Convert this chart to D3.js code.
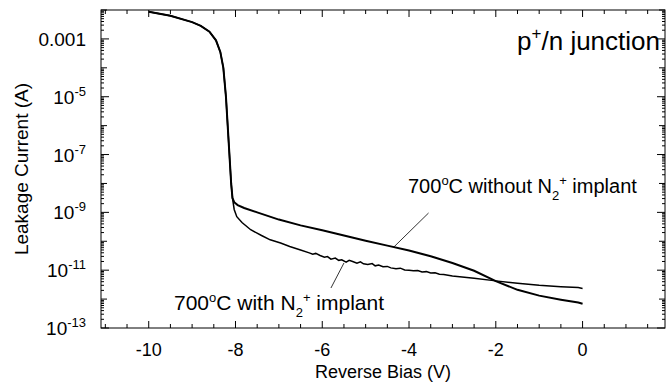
<!DOCTYPE html>
<html>
<head>
<meta charset="utf-8">
<script src="https://cdn.jsdelivr.net/npm/d3@7/dist/d3.min.js"></script>
<style>
  body { margin: 0; background: #fff; }
  text { font-family: "Liberation Sans", Arial, sans-serif; fill: #000; }
</style>
</head>
<body>
<svg id="chart"></svg>
<script>
// 数据：反向偏压 (V) 与 log10(漏电流 A)
const sharedBias = [-10, -9.5, -9.0, -8.8, -8.6, -8.45, -8.35, -8.28, -8.22, -8.18, -8.14, -8.1, -8.07];
const sharedLogI = [-2.06, -2.2, -2.42, -2.55, -2.75, -3.05, -3.45, -4.0, -5.0, -6.0, -7.0, -8.0, -8.5];

const withoutBias = [-8.03, -7.95, -7.8, -7.5, -7.0, -6.5, -6.0, -5.5, -5.0, -4.5, -4.0, -3.5, -3.0, -2.5, -2.0, -1.5, -1.0, -0.5, -0.1, 0];
const withoutLogI = [-8.65, -8.75, -8.85, -9.0, -9.25, -9.45, -9.62, -9.8, -9.98, -10.15, -10.32, -10.52, -10.75, -11.02, -11.38, -11.68, -11.88, -12.02, -12.12, -12.16];

const withBias = [-8.03, -7.97, -7.85, -7.65, -7.4, -7.2, -6.96, -6.75, -6.5, -6.3, -6.22, -6.15, -6.05, -5.95, -5.88, -5.8, -5.7, -5.62, -5.55, -5.45, -5.38, -5.3, -5.2, -5.12, -5.05, -4.95, -4.85, -4.78, -4.7, -4.6, -4.5, -4.42, -4.3, -4.2, -4.1, -4.0, -3.9, -3.8, -3.7, -3.6, -3.5, -3.4, -3.3, -3.2, -3.0, -2.5, -2.0, -1.5, -1.0, -0.5, -0.1, 0];
const withLogI = [-8.9, -9.15, -9.35, -9.6, -9.8, -9.95, -10.06, -10.18, -10.3, -10.4, -10.45, -10.42, -10.49, -10.55, -10.53, -10.62, -10.58, -10.66, -10.64, -10.72, -10.66, -10.7, -10.76, -10.71, -10.78, -10.8, -10.77, -10.85, -10.82, -10.88, -10.87, -10.92, -10.95, -10.93, -10.99, -11.0, -11.02, -11.01, -11.06, -11.05, -11.1, -11.09, -11.14, -11.15, -11.2, -11.28, -11.37, -11.45, -11.52, -11.57, -11.6, -11.63];

const xTicks = [-10, -8, -6, -4, -2, 0];
const yTickExps = [-3, -5, -7, -9, -11, -13];

const width = 666, height = 385;
const margin = { top: 10, right: 1, bottom: 57, left: 101 };

const svg = d3.select("#chart")
  .attr("width", width)
  .attr("height", height);

const x = d3.scaleLinear()
  .domain([-11.1, 1.9])
  .range([margin.left, width - margin.right]);

const y = d3.scaleLog()
  .domain([1e-13, 1e-2])
  .range([height - margin.bottom, margin.top]);

const x0 = margin.left, x1 = width - margin.right;
const y0 = height - margin.bottom, y1 = margin.top;

// 坐标框
svg.append("rect")
  .attr("x", x0).attr("y", y1)
  .attr("width", x1 - x0).attr("height", y0 - y1)
  .attr("fill", "none").attr("stroke", "#000").attr("stroke-width", 1);

// X 刻度（向内，上下两边）
const xMinor = d3.range(-11, 2.01, 0.5).filter(v => xTicks.indexOf(v) < 0);
const tickG = svg.append("g").attr("stroke", "#000").attr("stroke-width", 1);
xTicks.forEach(v => {
  tickG.append("line").attr("x1", x(v)).attr("x2", x(v)).attr("y1", y0).attr("y2", y0 - 7);
  tickG.append("line").attr("x1", x(v)).attr("x2", x(v)).attr("y1", y1).attr("y2", y1 + 7);
});
xMinor.forEach(v => {
  tickG.append("line").attr("x1", x(v)).attr("x2", x(v)).attr("y1", y0).attr("y2", y0 - 4);
  tickG.append("line").attr("x1", x(v)).attr("x2", x(v)).attr("y1", y1).attr("y2", y1 + 4);
});

// Y 刻度（对数，向内，左右两边）
for (let e = -13; e <= -2; e++) {
  const big = yTickExps.indexOf(e) >= 0 ? 8 : 6;
  tickG.append("line").attr("x1", x0).attr("x2", x0 + big).attr("y1", y(Math.pow(10, e))).attr("y2", y(Math.pow(10, e)));
  tickG.append("line").attr("x1", x1).attr("x2", x1 - big).attr("y1", y(Math.pow(10, e))).attr("y2", y(Math.pow(10, e)));
  if (e < -2) {
    for (let m = 2; m <= 9; m++) {
      const v = m * Math.pow(10, e);
      tickG.append("line").attr("x1", x0).attr("x2", x0 + 3).attr("y1", y(v)).attr("y2", y(v));
      tickG.append("line").attr("x1", x1).attr("x2", x1 - 3).attr("y1", y(v)).attr("y2", y(v));
    }
  }
}

// X 刻度标签
svg.append("g").selectAll("text")
  .data(xTicks)
  .enter()
  .append("text")
  .attr("x", d => x(d))
  .attr("y", y0 + 28)
  .attr("text-anchor", "middle")
  .style("font-size", "18px")
  .text(d => d);

// Y 刻度标签
const yLab = svg.append("g").selectAll("text")
  .data(yTickExps)
  .enter()
  .append("text")
  .attr("x", 86)
  .attr("y", d => y(Math.pow(10, d)) + 7)
  .attr("text-anchor", "end")
  .style("font-size", "19px");
yLab.each(function(d) {
  const t = d3.select(this);
  if (d === -3) {
    t.text("0.001");
  } else {
    t.append("tspan").text("10");
    t.append("tspan").attr("dy", -8).style("font-size", "13px").text(d);
  }
});

// 轴标题
svg.append("text")
  .attr("x", (x0 + x1) / 2)
  .attr("y", 378)
  .attr("text-anchor", "middle")
  .style("font-size", "18px")
  .text("Reverse Bias (V)");

svg.append("text")
  .attr("transform", `translate(28,${(y0 + y1) / 2}) rotate(-90)`)
  .attr("text-anchor", "middle")
  .style("font-size", "19px")
  .text("Leakage Current (A)");

// 曲线
const line = d3.line()
  .x(d => x(d[0]))
  .y(d => y(Math.pow(10, d[1])));

const sharedPts = sharedBias.map((v, i) => [v, sharedLogI[i]]);
const withoutPts = sharedPts.concat(withoutBias.map((v, i) => [v, withoutLogI[i]]));
const withPts = sharedPts.concat(withBias.map((v, i) => [v, withLogI[i]]));

svg.append("path")
  .datum(withoutPts)
  .attr("d", line)
  .attr("fill", "none")
  .attr("stroke", "#000")
  .attr("stroke-width", 2);

svg.append("path")
  .datum(withPts)
  .attr("d", line)
  .attr("fill", "none")
  .attr("stroke", "#000")
  .attr("stroke-width", 1.5);

// 注释
function labelN2(sel, prefix, suffix) {
  sel.append("tspan").text(prefix);
  sel.append("tspan").attr("dy", -8).style("font-size", "13px").text("o");
  sel.append("tspan").attr("dy", 8).text("C " + suffix + " N");
  sel.append("tspan").attr("dy", 7).style("font-size", "13px").text("2");
  sel.append("tspan").attr("dy", -15).style("font-size", "13px").text("+");
  sel.append("tspan").attr("dy", 8).text(" implant");
}

const tWithout = svg.append("text")
  .attr("x", 408).attr("y", 193)
  .style("font-size", "20px");
labelN2(tWithout, "700", "without");

const tWith = svg.append("text")
  .attr("x", 174).attr("y", 310)
  .style("font-size", "21px");
labelN2(tWith, "700", "with");

svg.append("line")
  .attr("x1", x(-3.55)).attr("y1", 213)
  .attr("x2", x(-4.35)).attr("y2", 247)
  .attr("stroke", "#000").attr("stroke-width", 0.8);

svg.append("line")
  .attr("x1", x(-5.8)).attr("y1", 288)
  .attr("x2", x(-5.5)).attr("y2", 263)
  .attr("stroke", "#000").attr("stroke-width", 0.8);

const tJ = svg.append("text")
  .attr("x", 660).attr("y", 50)
  .attr("text-anchor", "end")
  .style("font-size", "26px");
tJ.append("tspan").text("p");
tJ.append("tspan").attr("dy", -11).style("font-size", "17px").text("+");
tJ.append("tspan").attr("dy", 11).text("/n junction");
</script>
</body>
</html>
